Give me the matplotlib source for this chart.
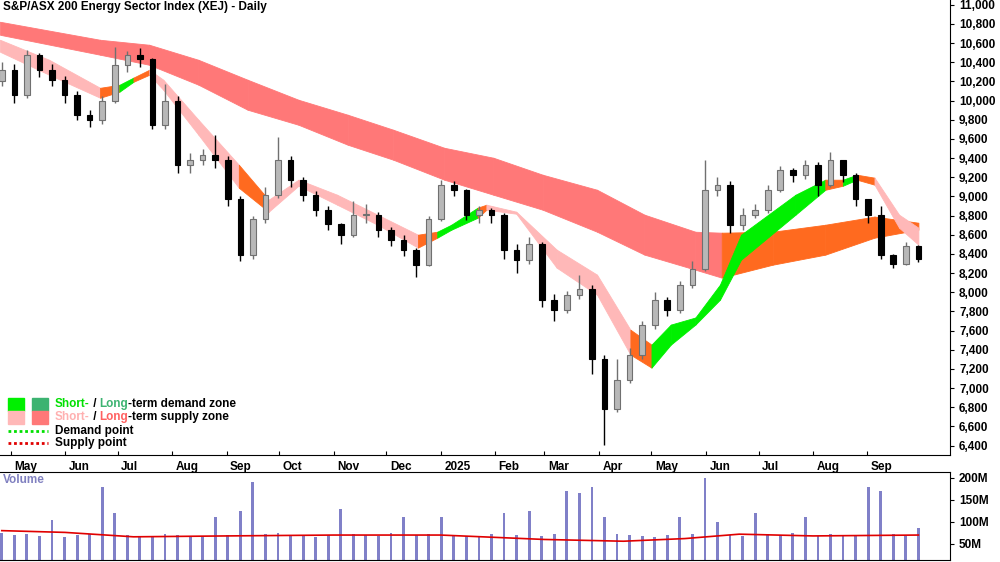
import matplotlib
matplotlib.use("Agg")
import matplotlib.pyplot as plt
import matplotlib.dates as mdates
import numpy as np
import pandas as pd
from matplotlib.patches import Rectangle

plt.rcParams['font.family'] = ['Liberation Sans', 'DejaVu Sans']

closes = [10320,10060,10480,10320,10220,10060,9850,9800,10000,10370,10480,10430,9750,10000,9330,9380,
          9430,9380,8970,8390,8760,9020,9380,9170,9020,8860,8710,8600,8810,8810,8650,8550,8440,8290,
          8760,9120,9070,8810,8860,8810,8440,8340,8500,7920,7820,7970,8030,7300,6780,7090,7350,7660,
          7920,7820,8080,8240,9070,9120,8700,8810,8860,9070,9280,9220,9330,9120,9380,9220,8970,8810,
          8390,8300,8480,8350]
first_open = 10200
highs = [10400,10380,10530,10500,10380,10260,10100,9900,10050,10560,10520,10550,10450,10170,10050,9450,
         9500,9640,9420,9000,8800,9100,9620,9420,9200,9060,8900,8720,8950,8920,8840,8680,8600,8460,
         8800,9170,9160,9080,8900,8880,8830,8500,8580,8520,7980,8010,8180,8080,7350,7300,7420,7700,
         8000,7950,8120,8330,9380,9200,9160,8880,8920,9120,9320,9300,9380,9360,9460,9300,9240,8940,
         8900,8400,8530,8490]
lows = [10150,9980,10030,10250,10150,9980,9800,9720,9760,9980,10300,10350,9700,9700,9250,9250,
        9330,9300,8900,8330,8350,8720,8980,9100,8950,8800,8650,8500,8580,8720,8580,8480,8380,8160,
        8270,8740,9000,8750,8720,8720,8350,8200,8300,7850,7700,7780,7930,7150,6410,6750,7050,7300,
        7620,7750,7780,8050,8220,9000,8620,8650,8780,8830,9050,9150,9180,9000,9100,9150,8900,8720,
        8350,8250,8280,8320]
volumes = [75,70,72,68,105,65,70,72,180,120,70,68,65,72,70,66,68,110,70,125,190,72,75,70,68,66,70,130,
           72,70,68,75,110,70,72,110,70,68,66,72,120,70,125,68,72,170,165,180,110,72,70,68,66,70,110,72,
           200,100,70,68,120,72,70,75,110,68,72,70,70,180,170,72,68,85]
vol_avg_dates = ['2024-04-26','2024-06-01','2024-07-10','2024-09-01','2024-11-01','2025-01-01',
                 '2025-03-01','2025-04-15','2025-05-20','2025-06-20','2025-08-01','2025-09-30']
vol_avg = [80,76,66,68,70,70,60,56,62,72,68,70]

lt_dates = ['2024-04-25','2024-06-21','2024-07-19','2024-08-16','2024-09-13','2024-10-12','2024-11-09',
            '2024-12-05','2025-01-03','2025-01-31','2025-02-28','2025-03-31','2025-04-27','2025-05-26',
            '2025-06-10','2025-07-09','2025-08-08','2025-09-05','2025-09-30']
lt_upper = [10823,10635,10583,10426,10218,10009,9853,9696,9508,9404,9227,9070,8810,8632,8622,8632,8705,8790,8726]
lt_lower = [10687,10479,10374,10166,9905,9748,9540,9383,9175,9018,8862,8632,8393,8236,8153,8288,8393,8570,8653]
lt_state = ['S','S','S','S','S','S','S','S','S','S','S','S','S','S','O','O','O','O']

st_dates = ['2024-04-25','2024-05-23','2024-06-21','2024-07-02','2024-07-10','2024-07-19','2024-07-27',
            '2024-08-16','2024-09-08','2024-09-25','2024-10-12','2024-11-03','2024-11-26','2024-12-19',
            '2024-12-30','2025-01-07','2025-01-22','2025-01-27','2025-02-13','2025-03-08','2025-03-31',
            '2025-04-19','2025-05-01','2025-05-12','2025-05-26','2025-06-09','2025-06-21','2025-07-22',
            '2025-08-08','2025-08-18','2025-08-26','2025-09-05','2025-09-19','2025-09-30']
st_upper = [10635,10426,10134,10165,10240,10322,10218,9800,9331,8966,9175,9018,8810,8601,8632,8705,8883,
            8914,8841,8445,8184,7610,7454,7663,7737,8080,8601,9018,9175,9175,9227,9196,8810,8674]
st_lower = [10510,10270,10030,10093,10197,10270,10113,9644,9091,8841,9112,8914,8705,8466,8570,8653,8778,
            8862,8820,8257,7975,7350,7214,7454,7663,7923,8340,8810,9070,9112,9175,9123,8674,8497]
st_state = ['S','S','O','G','O','S','S','S','O','S','S','S','S','O','G','G','O','S','S','S','S','O','G',
            'G','G','G','G','G','O','G','O','S','S']

months = ['2024-05-01','2024-06-01','2024-07-01','2024-08-01','2024-09-01','2024-10-01','2024-11-01',
          '2024-12-01','2025-01-01','2025-02-01','2025-03-01','2025-04-01','2025-05-01','2025-06-01',
          '2025-07-01','2025-08-01','2025-09-01']
month_labels = ['May','Jun','Jul','Aug','Sep','Oct','Nov','Dec','2025','Feb','Mar','Apr','May','Jun',
                'Jul','Aug','Sep']

C_LT_S = '#FF7878'; C_ST_S = '#FFB8B8'; C_ST_D = '#00F000'; C_LT_D = '#3CB371'; C_OR = '#FF6A1F'
colmap_st = {'S': C_ST_S, 'O': C_OR, 'G': C_ST_D}
colmap_lt = {'S': C_LT_S, 'O': C_OR, 'G': C_LT_D}

dates = pd.date_range('2024-04-26', '2025-09-30', periods=len(closes))
opens = [first_open] + closes[:-1]

fig = plt.figure(figsize=(10, 5.62), dpi=100)
ax = fig.add_axes([0.0, 0.19, 0.95, 0.81])
axv = fig.add_axes([0.0, 0.004, 0.95, 0.157])

def band(a, dl, up, lo, states, cmap):
    d = mdates.date2num(pd.to_datetime(dl))
    for i, s in enumerate(states):
        a.fill_between(d[i:i+2], lo[i:i+2], up[i:i+2], facecolor=cmap[s], edgecolor=cmap[s],
                       lw=0.6, zorder=1)

band(ax, lt_dates, lt_upper, lt_lower, lt_state, colmap_lt)
band(ax, st_dates, st_upper, st_lower, st_state, colmap_st)

xd = mdates.date2num(dates)
w = 3.2
for x, o, c, h, l in zip(xd, opens, closes, highs, lows):
    up = c >= o
    ec = '#707070' if up else 'black'
    ax.vlines(x, l, h, color=ec, lw=1, zorder=3)
    ax.add_patch(Rectangle((x - w/2, min(o, c)), w, max(abs(c - o), 8),
                           facecolor='#B8B8B8' if up else 'black', edgecolor=ec, lw=0.8, zorder=4))

xmin = mdates.date2num(pd.Timestamp('2024-04-25'))
xmax = mdates.date2num(pd.Timestamp('2025-10-18'))
for a in (ax, axv):
    a.set_xlim(xmin, xmax)
    a.yaxis.tick_right()
    a.tick_params(axis='y', direction='out', labelsize=8.5, length=3)
    for sp in ['top', 'left']:
        a.spines[sp].set_visible(False)
ax.set_ylim(6300, 11050)
ax.set_yticks(np.arange(6400, 11001, 200))
ax.set_yticklabels([f'{v:,}' for v in range(6400, 11001, 200)], fontweight='bold')
mt = mdates.date2num(pd.to_datetime(months))
ax.set_xticks(mt)
ax.set_xticklabels([])
ax.tick_params(axis='x', direction='in', length=3)
for m, lab in zip(mt, month_labels):
    ax.text(m + 2, -0.012, lab, transform=ax.get_xaxis_transform(), ha='left', va='top',
            fontsize=8.5, fontweight='bold')
ax.text(0.003, 0.997, 'S&P/ASX 200 Energy Sector Index (XEJ) - Daily', transform=ax.transAxes,
        ha='left', va='top', fontsize=8.5, fontweight='bold')

# legend
def lg_sq(y, c1, c2):
    for x0, c in ((8, c1), (32, c2)):
        fig.patches.append(Rectangle((x0/1000, 1 - (y+7)/562), 16/1000, 13/562, color=c,
                                     transform=fig.transFigure))
lg_sq(404, C_ST_D, C_LT_D)
lg_sq(417, C_ST_S, C_LT_S)
rend = fig.canvas.get_renderer()
def twidth(s):
    t = fig.text(0, 0, s + '|', fontsize=8.5, fontweight='bold')
    t2 = fig.text(0, 0, '|', fontsize=8.5, fontweight='bold')
    wdt = t.get_window_extent(renderer=rend).width - t2.get_window_extent(renderer=rend).width
    t.remove(); t2.remove()
    return wdt
def seg_text(y, parts):
    prefix = ''
    for s, c in parts:
        x = 55 + twidth(prefix)
        fig.text(x/1000, 1 - y/562, s, color=c, fontsize=8.5, fontweight='bold', va='center', ha='left')
        prefix += s
seg_text(404, [('Short-', '#00E000'), (' / ', 'black'), ('Long', '#3CB371'), ('-term demand zone', 'black')])
seg_text(417, [('Short-', '#FFB0B0'), (' / ', 'black'), ('Long', '#FF6060'), ('-term supply zone', 'black')])
fig.lines.append(plt.Line2D([8/1000, 48/1000], [1-431/562]*2, color='#00E000', lw=2, ls=(0, (1, 1)),
                            transform=fig.transFigure))
fig.lines.append(plt.Line2D([8/1000, 48/1000], [1-443/562]*2, color='#E00000', lw=2, ls=(0, (1, 1)),
                            transform=fig.transFigure))
fig.text(55/1000, 1-431/562, 'Demand point', fontsize=8.5, fontweight='bold', va='center')
fig.text(55/1000, 1-443/562, 'Supply point', fontsize=8.5, fontweight='bold', va='center')

# volume
axv.bar(xd, volumes, width=1.6, color='#8080C8', zorder=2)
axv.plot(mdates.date2num(pd.to_datetime(vol_avg_dates)), vol_avg, color='#E00000', lw=1.2, zorder=3)
axv.set_ylim(14, 214)
axv.set_yticks([50, 100, 150, 200])
axv.set_yticklabels(['50M', '100M', '150M', '200M'], fontweight='bold')
axv.set_xticks([])
axv.spines['top'].set_visible(True)
axv.text(0.003, 0.97, 'Volume', transform=axv.transAxes, ha='left', va='top', fontsize=8.5,
         fontweight='bold', color='#8080C0')
fig.savefig('out.png', dpi=100)
